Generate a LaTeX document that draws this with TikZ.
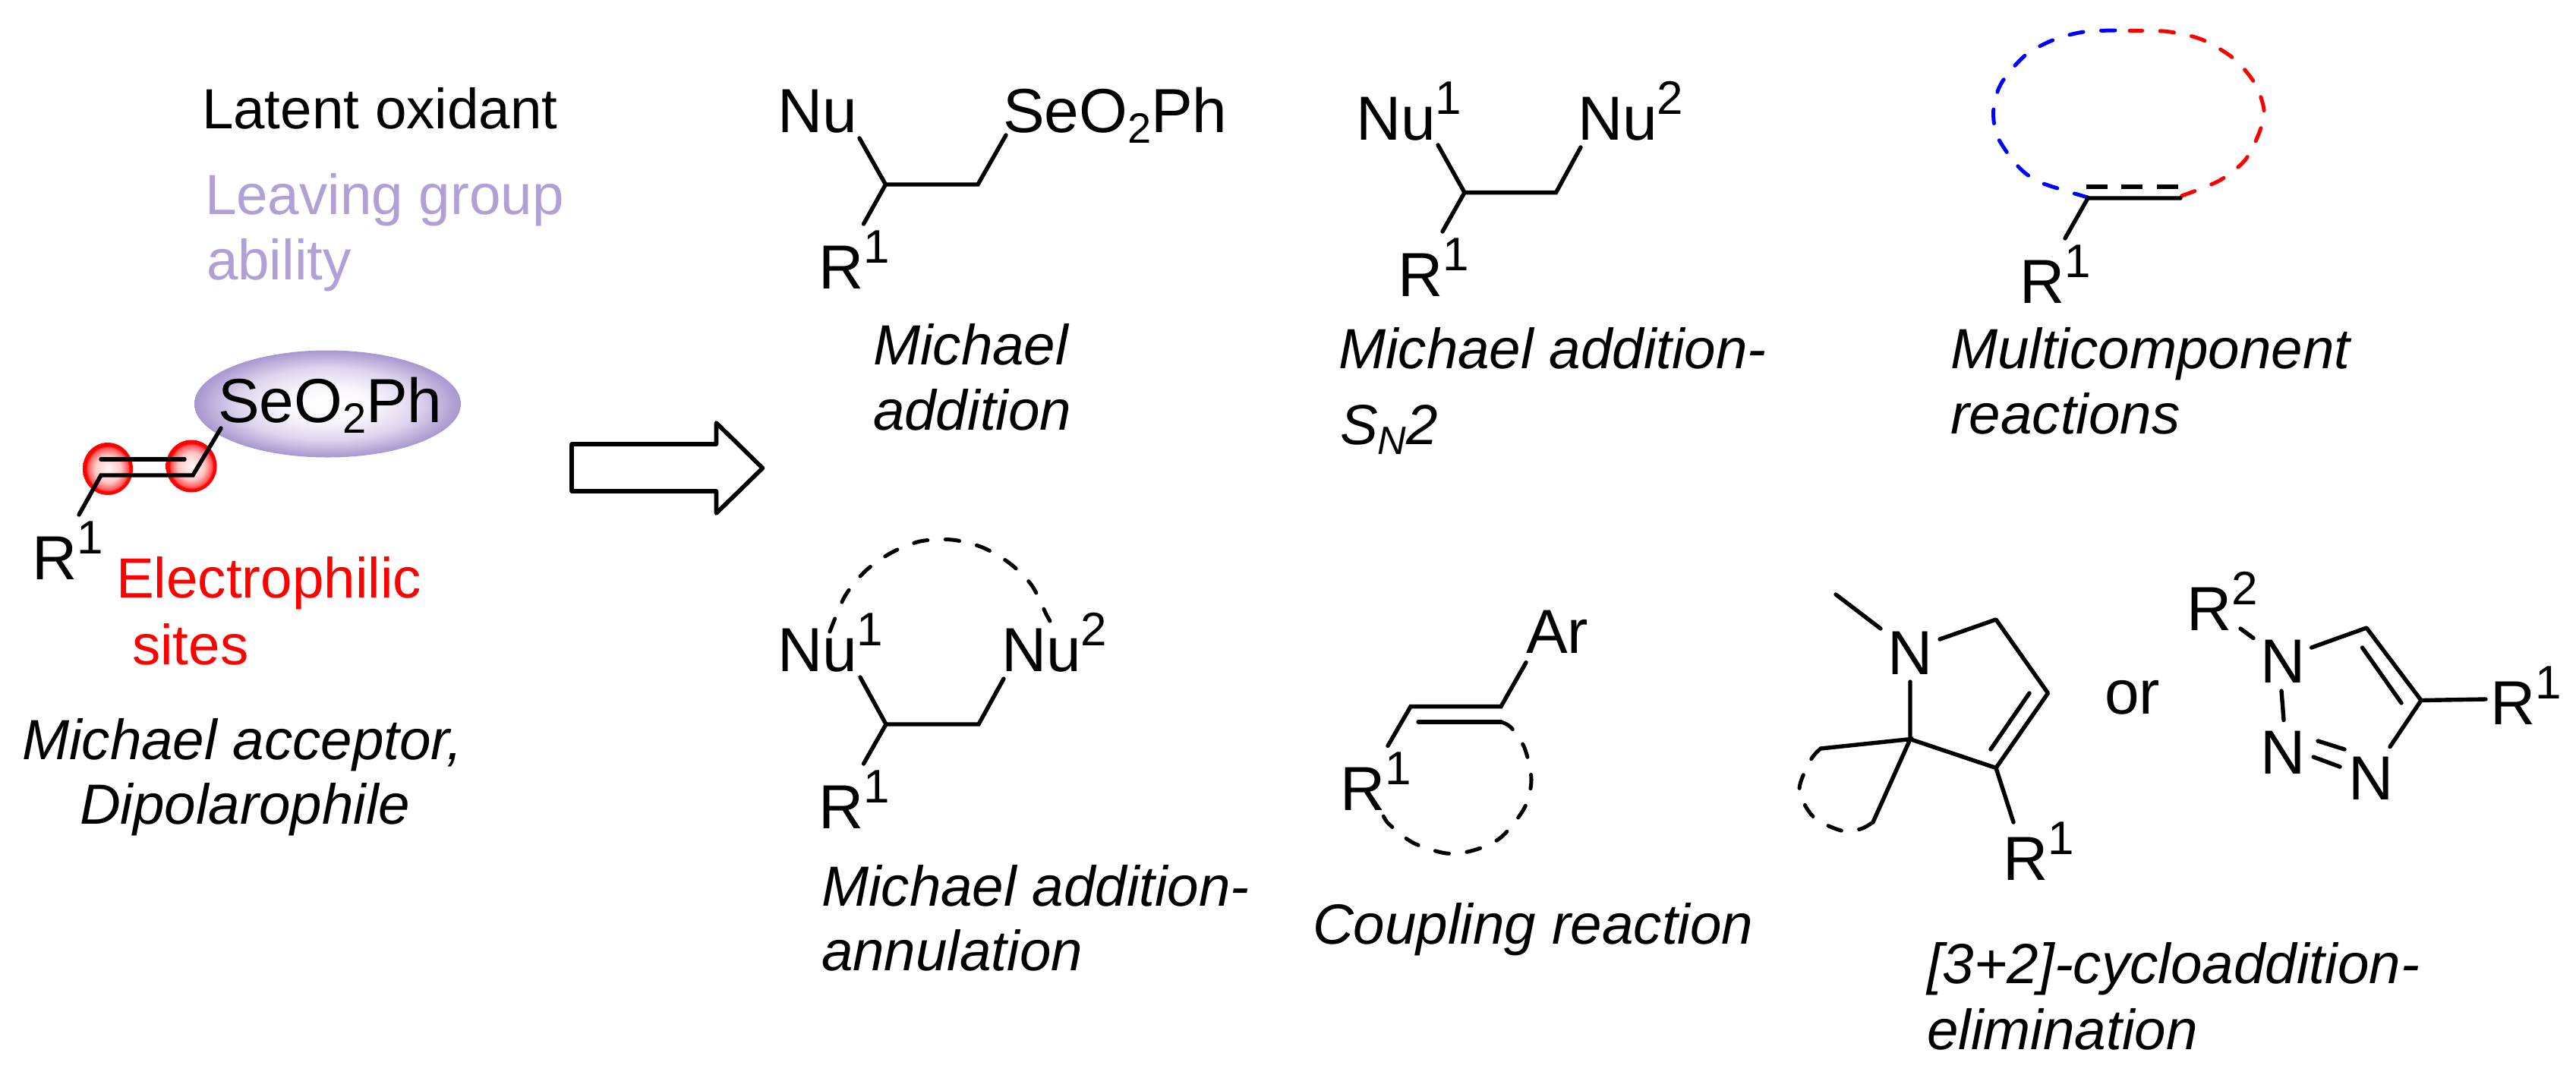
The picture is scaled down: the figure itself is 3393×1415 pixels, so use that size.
\documentclass[tikz,border=0pt]{standalone}
\usepackage{fontspec}
\setmainfont{Liberation Sans}
\definecolor{lgpurple}{RGB}{177,160,214}
\pgfdeclareradialshading{ellshade}{\pgfpointorigin}{rgb(0bp)=(1,1,1);rgb(8bp)=(0.98,0.97,0.99);rgb(17bp)=(0.87,0.83,0.93);rgb(25bp)=(0.66,0.59,0.81);rgb(50bp)=(0.66,0.59,0.81)}
\pgfdeclareradialshading{redball}{\pgfpointorigin}{rgb(0bp)=(1,0.97,0.97);rgb(13bp)=(1,0.78,0.78);rgb(20bp)=(1,0.35,0.35);rgb(22bp)=(1,0,0);rgb(50bp)=(1,0,0)}
\newcommand{\chemsup}[1]{\raisebox{8.5pt}{\fontsize{15.5}{15.5}\selectfont #1}}
\newcommand{\chemsub}[1]{\raisebox{-3.6pt}{\fontsize{14}{14}\selectfont #1}}
\tikzset{
  x=0.25pt,y=-0.25pt,
  chem/.style={inner sep=0,outer sep=0,anchor=base west,font=\fontsize{20.5}{20.5}\selectfont},
  lbl/.style={inner sep=0,outer sep=0,anchor=base west,font=\fontsize{18.65}{18.65}\selectfont},
  ital/.style={lbl,font=\fontsize{18.65}{18.65}\selectfont\itshape},
  bond/.style={draw=black,line width=1.35pt,line cap=round,line join=miter},
  ringdash/.style={line width=1.25pt,line cap=round,dash pattern=on 4.6pt off 5.9pt,smooth},
  dbldash/.style={draw=black,line width=1.5pt,dash pattern=on 7pt off 4.6pt},
}
\begin{document}
\begin{tikzpicture}
\useasboundingbox (0,0) rectangle (3393,1415);
% starting material
\path[shade,shading=ellshade] (431.5,532) ellipse [x radius=175.5,y radius=70.5];
\path[shade,shading=redball] (142,617.5) ellipse [x radius=33,y radius=34.5];
\path[shade,shading=redball] (252,614) ellipse [x radius=33.5,y radius=34.5];
\draw[bond] (104,678) -- (133,626) -- (254,626) -- (291,564);
\draw[bond] (133,605) -- (243,605);
\node[lbl] (latent) at (266,169) {Latent oxidant};
\node[lbl,text=lgpurple] (leaving) at (270,282) {Leaving group};
\node[lbl,text=lgpurple] (ability) at (272,368) {ability};
\node[chem] (se0) at (287,556) {SeO\chemsub{2}Ph};
\node[chem] (r0) at (42,763) {R\chemsup{1}};
\node[lbl,text=red] (elec) at (153,787) {Electrophilic};
\node[lbl,text=red] (sites) at (174,875) {sites};
\node[ital] (ma) at (29,1000) {Michael acceptor,};
\node[ital] (dp) at (105,1085) {Dipolarophile};
% big arrow
\draw[line width=1.4pt,line join=round,fill=white] (753,585) -- (943.5,585) -- (943.5,557) -- (1004.5,616.6) -- (943.5,676) -- (943.5,647) -- (753,647) -- cycle;
% product 1
\draw[bond] (1132,182) -- (1166.5,243) -- (1288,243) -- (1325,178);
\draw[bond] (1166.5,243) -- (1137.5,295);
\node[chem] (nu1a) at (1024,174) {Nu};
\node[chem] (se1) at (1321,174) {SeO\chemsub{2}Ph};
\node[chem] (r1) at (1078,380) {R\chemsup{1}};
\node[ital] (t1a) at (1150,480) {Michael};
\node[ital] (t1b) at (1150,566) {addition};
% product 2
\draw[bond] (1894,191) -- (1929,253.6) -- (2049.5,253.6) -- (2082,194);
\draw[bond] (1929,253.6) -- (1900,305);
\node[chem] (nu2a) at (1786,184) {Nu\chemsup{1}};
\node[chem] (nu2b) at (2078,184) {Nu\chemsup{2}};
\node[chem] (r2) at (1841,390) {R\chemsup{1}};
\node[ital] (t2a) at (1763,485) {Michael addition-};
\node[ital] (t2b) at (1765,585) {S\raisebox{-3.4pt}{\fontsize{13}{13}\selectfont N}2};
% product 3
\draw[blue,ringdash] plot coordinates {(2750,260) (2687,240) (2657,218) (2630,178) (2626,141) (2637,108) (2668,72.5) (2706,52) (2748,41.5) (2801,40)};
\draw[red,ringdash] plot coordinates {(2873.5,258) (2923,238) (2957,211) (2976,174) (2982,145) (2970,110) (2942,77) (2900,52) (2854.5,41.5) (2805,40.5)};
\draw[bond] (2720,314) -- (2750,261) -- (2872,261);
\draw[dbldash] (2748,246) -- (2872,246);
\node[chem] (r3) at (2660,399) {R\chemsup{1}};
\node[ital] (t3a) at (2569,485) {Multicomponent};
\node[ital] (t3b) at (2569,571) {reactions};
% product 4
\draw[black,ringdash] plot coordinates {(1093,832) (1113,785) (1140,752) (1174,728) (1212,713) (1254,711) (1294,721) (1330,742) (1359,771) (1378,809) (1383,818)};
\draw[bond] (1133,892) -- (1167,954) -- (1289,954) -- (1322,894);
\draw[bond] (1167,954) -- (1137.5,1006);
\node[chem] (nu4a) at (1024,884) {Nu\chemsup{1}};
\node[chem] (nu4b) at (1319,884) {Nu\chemsup{2}};
\node[chem] (r4) at (1078,1091) {R\chemsup{1}};
\node[ital] (t4a) at (1082,1193) {Michael addition-};
\node[ital] (t4b) at (1082,1278) {annulation};
% product 5
\draw[black,ringdash] plot coordinates {(1977,951) (1990,958) (2008,985) (2017,1027) (2008,1064) (1977,1103) (1941,1120) (1905,1124) (1861,1110) (1829,1085) (1820,1070)};
\draw[bond] (1828,982.4) -- (1858,930.6) -- (1977,930.6) -- (2010,872.6);
\draw[bond] (1868,951) -- (1977,951);
\node[chem] (ar5) at (2010,860) {Ar};
\node[chem] (r5) at (1765,1067) {R\chemsup{1}};
\node[ital] (t5) at (1729,1243) {Coupling reaction};
% product 6
\draw[black,ringdash] plot coordinates {(2398,986) (2385,1001) (2370,1040) (2388.5,1076) (2425,1094) (2450.5,1092) (2467,1083)};
\draw[bond] (2418,783) -- (2477,828);
\draw[bond,line join=round] (2555,842) -- (2629,816) -- (2697.5,913) -- (2629,1011.5) -- (2516,973.6) -- (2516,898);
\draw[bond] (2673,913) -- (2622,987);
\draw[bond] (2398,986) -- (2516,973.6) -- (2467,1083);
\draw[bond] (2629,1011.5) -- (2652,1083);
\node[chem] (n6) at (2486,888) {N};
\node[chem] (r6) at (2638,1159) {R\chemsup{1}};
\node[chem] (or) at (2772,940) {or};
% triazole
\draw[bond] (2951,828) -- (2968,840.5);
\draw[bond,line join=round] (3044.5,853) -- (3117,827) -- (3189,922.5) -- (3148,983.6);
\draw[bond] (3111.5,853) -- (3163,926);
\draw[bond] (3189,922.5) -- (3274,921);
\draw[bond] (3005,910) -- (3008,948.5);
\draw[bond] (3053,976) -- (3088,987);
\draw[bond] (3047,997) -- (3082,1010);
\node[chem] (r7b) at (2880,830) {R\chemsup{2}};
\node[chem] (n7a) at (2977,899) {N};
\node[chem] (n7b) at (2977,1019) {N};
\node[chem] (n7c) at (3093,1053) {N};
\node[chem] (r7a) at (3280,954) {R\chemsup{1}};
\node[ital] (t6a) at (2538,1295) {[3+2]-cycloaddition-};
\node[ital] (t6b) at (2538,1382) {elimination};
\end{tikzpicture}
\end{document}
